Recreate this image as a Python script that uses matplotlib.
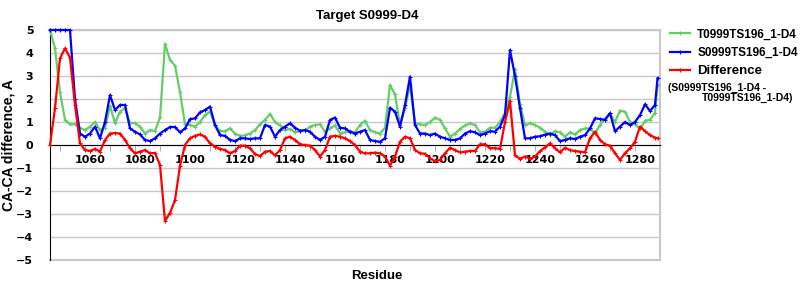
import matplotlib
matplotlib.use("Agg")
import matplotlib.pyplot as plt

residues = list(range(1044, 1287, 2)) + [1287]

t0999 = [5.0, 4.2, 2.3, 1.1, 0.9, 0.9, 0.75, 0.65, 0.8, 1.0,
         0.65, 0.75, 1.7, 0.95, 1.45, 1.6, 0.95, 0.95, 0.8, 0.5,
         0.65, 0.6, 1.2, 4.4, 3.7, 3.45, 2.3, 0.9, 0.87, 0.8,
         1.0, 1.3, 1.45, 0.87, 0.6, 0.6, 0.72, 0.5, 0.4, 0.42,
         0.5, 0.65, 0.9, 1.1, 1.35, 1.0, 0.85, 0.65, 0.7, 0.55,
         0.6, 0.62, 0.8, 0.87, 0.9, 0.58, 0.72, 0.85, 0.5, 0.55,
         0.6, 0.55, 0.87, 1.05, 0.65, 0.55, 0.5, 0.75, 2.6, 2.2,
         0.87, 1.6, 2.6, 0.95, 0.9, 0.87, 1.0, 1.19, 1.1, 0.72,
         0.36, 0.5, 0.7, 0.85, 0.94, 0.87, 0.55, 0.58, 0.75, 0.75,
         1.0, 1.4, 2.1, 3.3, 1.8, 0.85, 0.95, 0.87, 0.75, 0.58,
         0.45, 0.6, 0.55, 0.36, 0.55, 0.46, 0.65, 0.72, 0.72, 0.5,
         0.87, 1.15, 1.38, 1.0, 1.5, 1.45, 1.0, 0.9, 0.7, 1.05,
         1.1, 1.4, 2.6]

s0999 = [5.0, 5.0, 5.0, 5.0, 5.0, 2.0, 0.5, 0.36, 0.5, 0.8,
         0.29, 1.0, 2.17, 1.52, 1.74, 1.74, 0.72, 0.58, 0.46, 0.22,
         0.17, 0.29, 0.5, 0.65, 0.78, 0.78, 0.55, 0.72, 1.12, 1.16,
         1.42, 1.52, 1.67, 0.87, 0.43, 0.4, 0.22, 0.17, 0.29, 0.29,
         0.26, 0.29, 0.29, 0.87, 0.8, 0.36, 0.65, 0.8, 0.94, 0.75,
         0.62, 0.65, 0.58, 0.36, 0.22, 0.36, 1.09, 1.19, 0.75, 0.72,
         0.58, 0.5, 0.58, 0.65, 0.22, 0.17, 0.14, 0.29, 1.62, 1.45,
         0.8, 1.74, 2.97, 0.87, 0.5, 0.5, 0.43, 0.5, 0.36, 0.29,
         0.22, 0.22, 0.29, 0.5, 0.6, 0.55, 0.43, 0.5, 0.6, 0.58,
         0.8, 1.3, 4.13, 3.0, 1.6, 0.29, 0.29, 0.36, 0.38, 0.45,
         0.5, 0.43, 0.17, 0.22, 0.29, 0.26, 0.36, 0.43, 0.72, 1.16,
         1.13, 1.09, 1.38, 0.6, 0.8, 1.0, 0.87, 1.0, 1.3, 1.77,
         1.48, 1.74, 2.9]

difference = [0.0, 1.6, 3.77, 4.2, 3.8, 1.74, 0.07, -0.22, -0.26, -0.17,
              -0.29, 0.22, 0.5, 0.52, 0.5, 0.22, -0.14, -0.36, -0.29, -0.22,
              -0.36, -0.35, -0.87, -3.3, -2.95, -2.4, -0.9, 0.0, 0.29, 0.4,
              0.46, 0.36, 0.07, -0.07, -0.17, -0.22, -0.36, -0.26, -0.03, -0.03,
              -0.14, -0.4, -0.48, -0.29, -0.26, -0.45, -0.22, 0.29, 0.36, 0.22,
              0.03, 0.0, -0.03, -0.22, -0.5, -0.22, 0.36, 0.4, 0.36, 0.29,
              0.17, 0.0, -0.29, -0.36, -0.36, -0.33, -0.36, -0.5, -0.9, -0.5,
              0.14, 0.36, 0.29, -0.22, -0.36, -0.38, -0.58, -0.7, -0.65, -0.36,
              -0.12, -0.22, -0.32, -0.29, -0.26, -0.26, 0.03, 0.03, -0.14, -0.14,
              -0.17, 1.0, 1.91, -0.45, -0.6, -0.5, -0.6, -0.5, -0.27, -0.1,
              0.07, -0.14, -0.32, -0.12, -0.22, -0.26, -0.29, -0.32, 0.29, 0.58,
              0.22, 0.03, -0.03, -0.36, -0.65, -0.36, -0.14, 0.14, 0.8, 0.6,
              0.43, 0.32, 0.29]

names = ["T0999TS196_1-D4", "S0999TS196_1-D4", "Difference"]
x_labels = list(range(1060, 1281, 20))
minor_ticks = list(range(1048, 1279, 10))
y_ticks = list(range(-5, 6))

grey = "#C8C8C8"

fig = plt.figure(figsize=(8, 3), dpi=100)
ax = fig.add_axes([0.0625, 0.1333, 0.7625, 0.7667])

style = dict(lw=1.6, marker="+", ms=2.5, mew=0.8, clip_on=False, zorder=3)
ax.plot(residues, t0999, color="#66CC66", **style)
ax.plot(residues, s0999, color="#0000FF", **style)
ax.plot(residues, difference, color="#FF0000", **style)

ax.set_xlim(1044, 1288)
ax.set_ylim(-5, 5)

ax.set_yticks(y_ticks)
ax.grid(axis="y", color=grey, lw=1)
ax.set_axisbelow(True)
ax.axhline(-5, color=grey, lw=1.5, clip_on=False, zorder=0)

# x axis sits on the zero line
ax.spines["bottom"].set_position(("data", 0))
ax.spines["bottom"].set_color("black")
ax.spines["left"].set_color("black")
ax.spines["top"].set_color(grey)
ax.spines["right"].set_color(grey)
ax.spines["top"].set_linewidth(1.5)
ax.spines["right"].set_linewidth(1.5)

ax.set_xticks(x_labels)
ax.set_xticklabels([str(v) for v in x_labels], fontsize=8, fontweight="bold")
ax.set_xticks(minor_ticks, minor=True)
ax.tick_params(axis="x", which="major", length=0, pad=7)
ax.tick_params(axis="x", which="minor", length=4, color="#A0A0A0")
ax.tick_params(axis="y", length=0, pad=12)
for lab in ax.get_yticklabels():
    lab.set_fontsize(8)
    lab.set_fontweight("bold")

ax.set_title("Target S0999-D4", fontsize=9.5, fontweight="bold",
             family="Liberation Sans", x=0.52, pad=8)
ax.set_xlabel("Residue", fontsize=9.5, fontweight="bold", family="Liberation Sans")
ax.xaxis.set_label_coords(0.536, -0.043)
ax.set_ylabel("CA-CA difference, A", fontsize=10, fontweight="bold",
              family="Liberation Sans")
ax.yaxis.set_label_coords(-0.057, 0.5)

leg = ax.legend(names, loc="upper left", bbox_to_anchor=(0.8375, 0.905),
                bbox_transform=fig.transFigure, frameon=False,
                prop={"family": "Liberation Sans", "weight": "bold", "size": 8.5},
                handlelength=1.7, handletextpad=0.6, labelspacing=0.55,
                borderpad=0, borderaxespad=0)
leg.get_texts()[2].set_fontsize(9.5)

fig.text(668 / 800, 1 - 88 / 300, "(S0999TS196_1-D4 -", fontsize=7.5,
         fontweight="bold", family="Liberation Sans", va="center")
fig.text(793 / 800, 1 - 97.5 / 300, "T0999TS196_1-D4)", fontsize=7.5,
         fontweight="bold", family="Liberation Sans", va="center", ha="right")

plt.savefig("out.png", dpi=100)
